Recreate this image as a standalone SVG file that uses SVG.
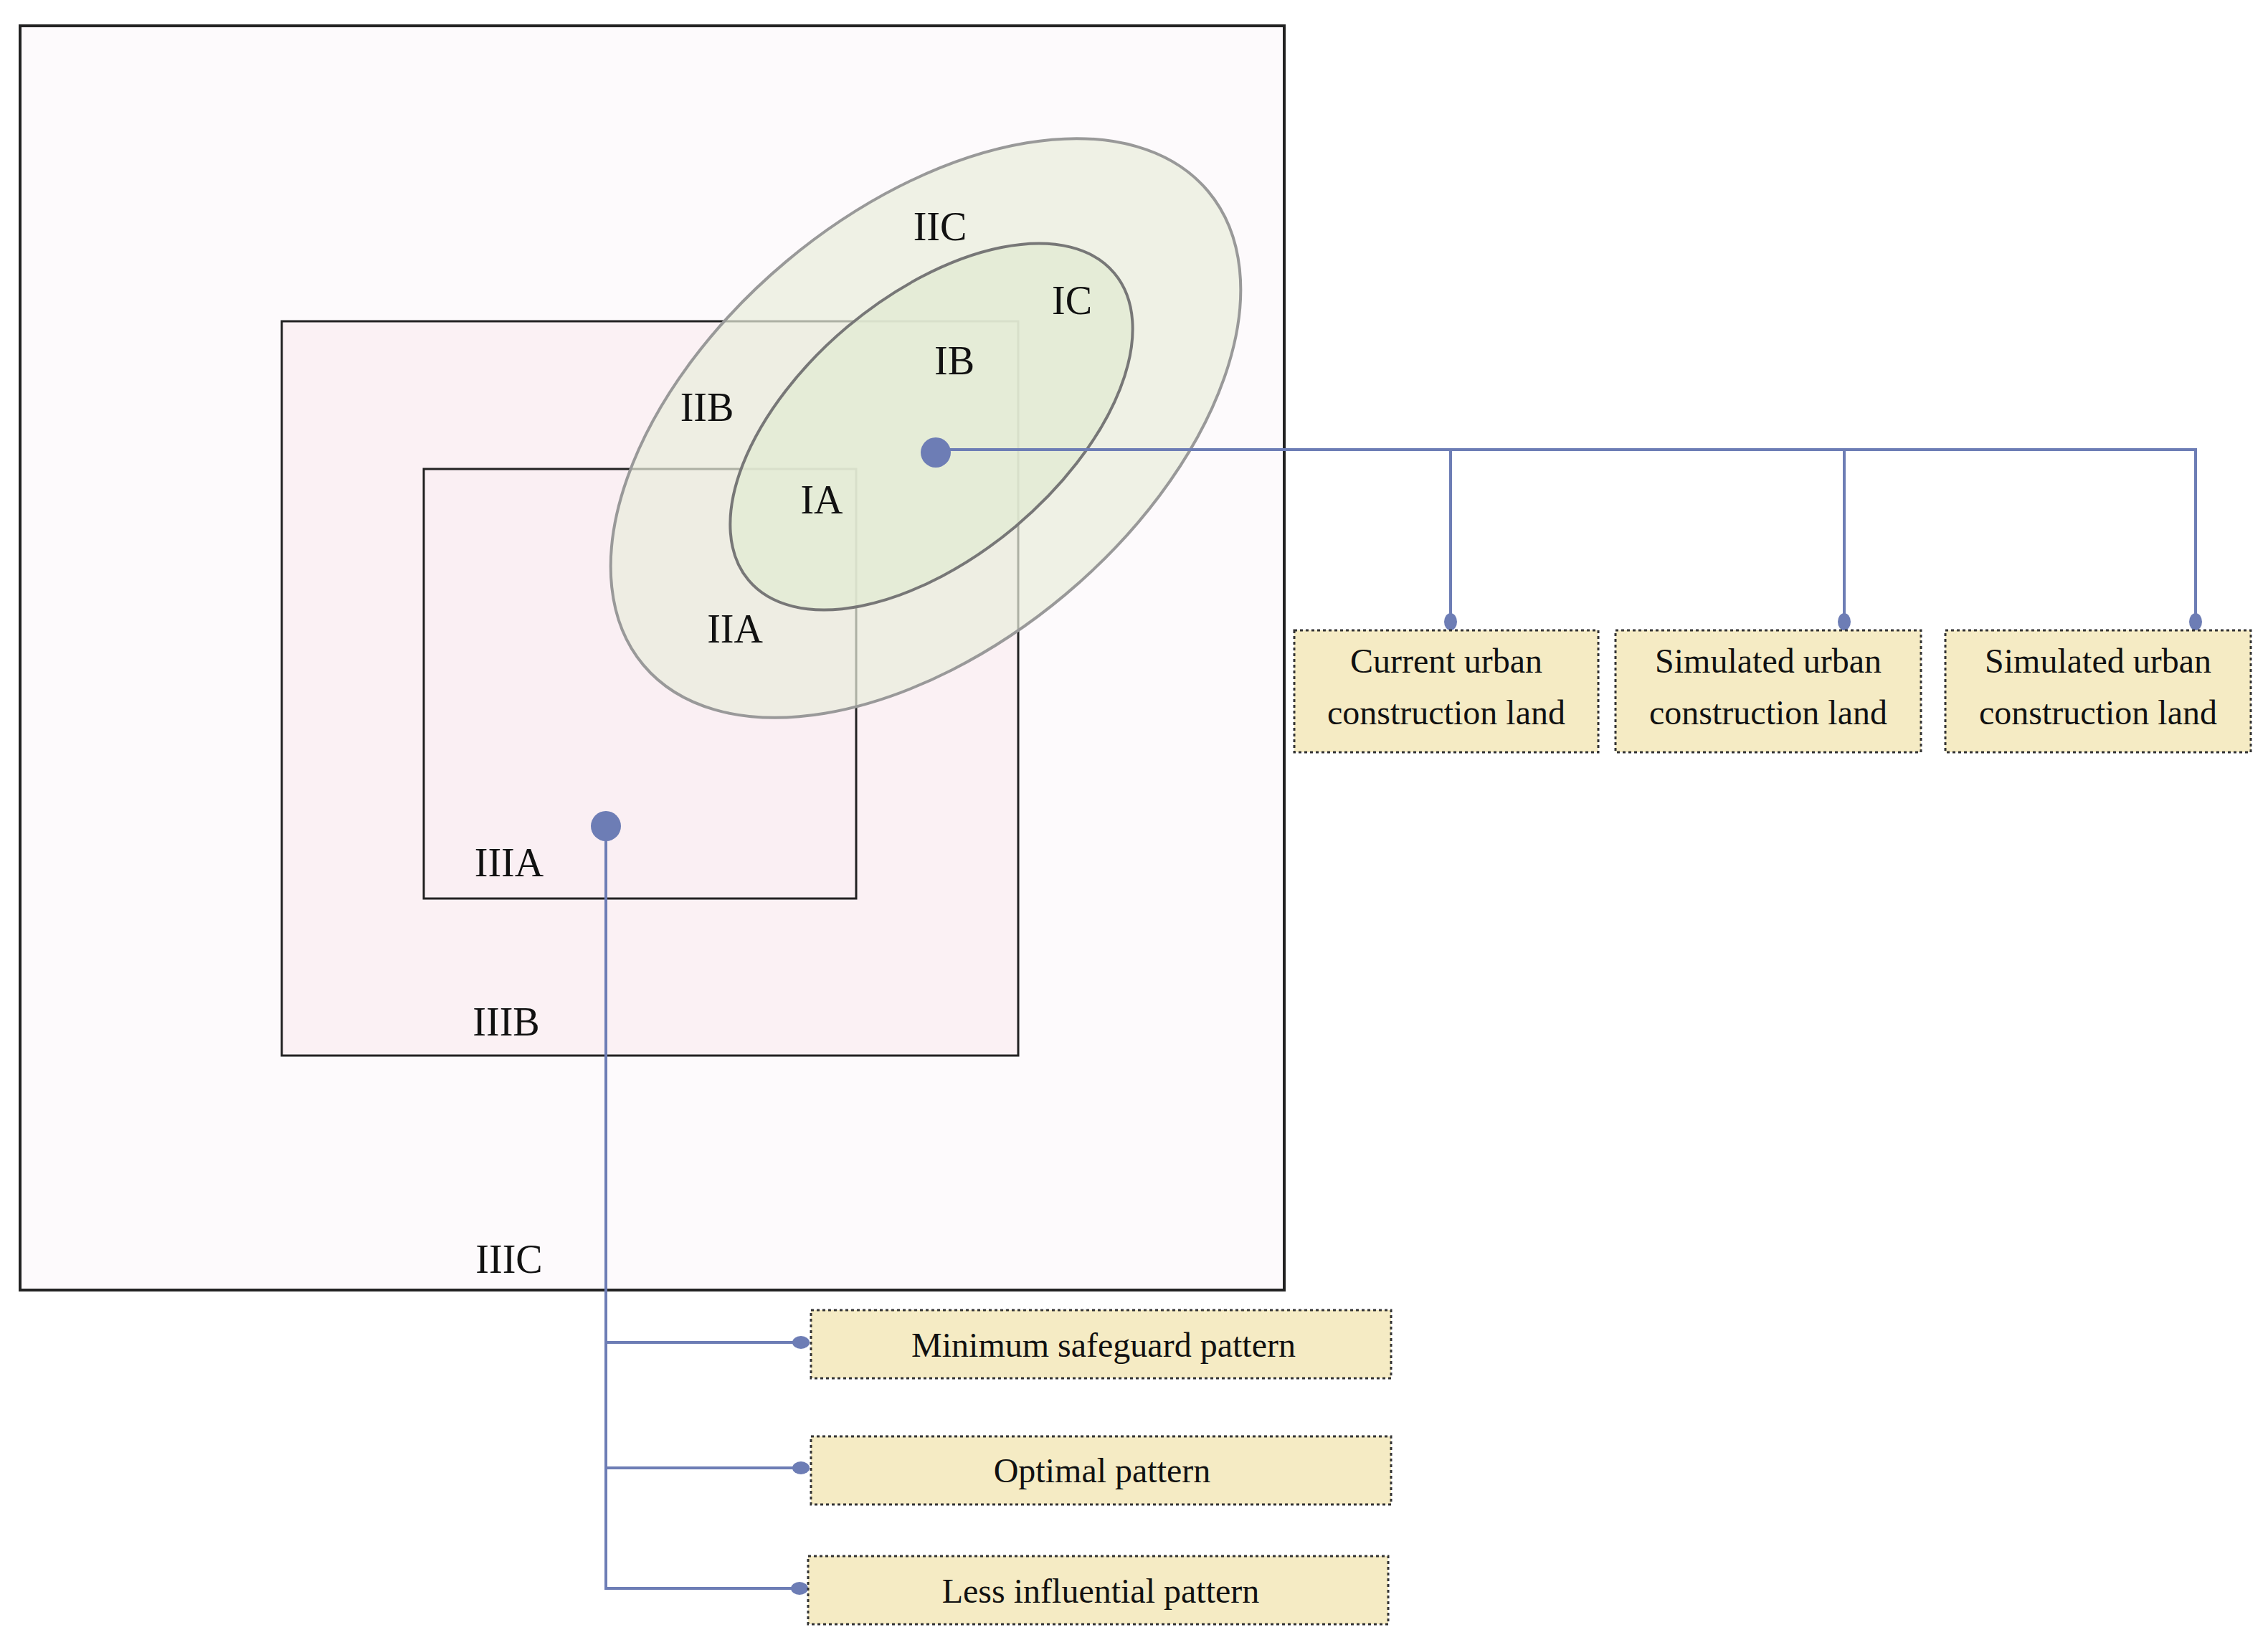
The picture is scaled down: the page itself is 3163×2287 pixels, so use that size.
<svg xmlns="http://www.w3.org/2000/svg" width="3163" height="2287" viewBox="0 0 3163 2287">
<style>
.lbl{font-family:"Liberation Serif",serif;font-size:56px;fill:#111;text-anchor:middle}
.bt{font-family:"Liberation Serif",serif;font-size:48px;fill:#111;text-anchor:middle}
.box{fill:#f5ebc4;stroke:#333;stroke-width:3;stroke-dasharray:4 4}
.con{fill:none;stroke:#6d7db5;stroke-width:4}
.dot{fill:#6d7db5}
</style>
<rect width="3163" height="2287" fill="#fff"/>
<g id="zone-IIIC"><rect x="28" y="36" width="1763" height="1763" fill="#fdfafc" stroke="#222" stroke-width="4"/></g>
<g id="zone-IIIB"><rect x="393" y="448" width="1027" height="1024" fill="#fbf1f4" stroke="#222" stroke-width="3"/></g>
<g id="zone-IIIA"><rect x="591" y="654" width="603" height="599" fill="#faeff3" stroke="#222" stroke-width="3"/></g>
<g id="zone-IIC"><ellipse cx="1291" cy="597" rx="514" ry="303" transform="rotate(-40 1291 597)" fill="#e8ecdc" fill-opacity="0.7" stroke="#999" stroke-width="4"/></g>
<g id="zone-IC"><ellipse cx="1299" cy="595" rx="333" ry="182" transform="rotate(-40 1299 595)" fill="#e2ebd3" fill-opacity="0.8" stroke="#777" stroke-width="4"/></g>
<g id="labels">
<text class="lbl" x="1311" y="335">IIC</text>
<text class="lbl" x="1495" y="438">IC</text>
<text class="lbl" x="1331" y="522">IB</text>
<text class="lbl" x="986" y="587">IIB</text>
<text class="lbl" x="1146" y="716">IA</text>
<text class="lbl" x="1025" y="896">IIA</text>
<text class="lbl" x="710" y="1222">IIIA</text>
<text class="lbl" x="706" y="1444">IIIB</text>
<text class="lbl" x="710" y="1775">IIIC</text>
</g>
<g id="connectors">
<path class="con" d="M1305 627 H3062 V867 M2023 627 V867 M2572 627 V867"/>
<path class="con" d="M845 1152 V2215 H1117 M845 1872 H1117 M845 2047 H1117"/>
<circle class="dot" cx="1305" cy="631" r="21"/>
<circle class="dot" cx="845" cy="1152" r="21"/>
<ellipse class="dot" cx="2023" cy="867" rx="9" ry="12"/>
<ellipse class="dot" cx="2572" cy="867" rx="9" ry="12"/>
<ellipse class="dot" cx="3062" cy="867" rx="9" ry="12"/>
<ellipse class="dot" cx="1117" cy="1872" rx="12" ry="9"/>
<ellipse class="dot" cx="1117" cy="2047" rx="12" ry="9"/>
<ellipse class="dot" cx="1115" cy="2215" rx="12" ry="9"/>
</g>
<g id="box-current"><rect class="box" x="1805" y="879" width="424" height="170"/><text class="bt" x="2017" y="938">Current urban</text><text class="bt" x="2017" y="1010">construction land</text></g>
<g id="box-sim1"><rect class="box" x="2253" y="879" width="426" height="170"/><text class="bt" x="2466" y="938">Simulated urban</text><text class="bt" x="2466" y="1010">construction land</text></g>
<g id="box-sim2"><rect class="box" x="2713" y="879" width="426" height="170"/><text class="bt" x="2926" y="938">Simulated urban</text><text class="bt" x="2926" y="1010">construction land</text></g>
<g id="box-min"><rect class="box" x="1131" y="1827" width="809" height="95"/><text class="bt" x="1539" y="1892">Minimum safeguard pattern</text></g>
<g id="box-opt"><rect class="box" x="1131" y="2003" width="809" height="95"/><text class="bt" x="1537" y="2067">Optimal pattern</text></g>
<g id="box-less"><rect class="box" x="1127" y="2170" width="809" height="95"/><text class="bt" x="1535" y="2235">Less influential pattern</text></g>
</svg>
